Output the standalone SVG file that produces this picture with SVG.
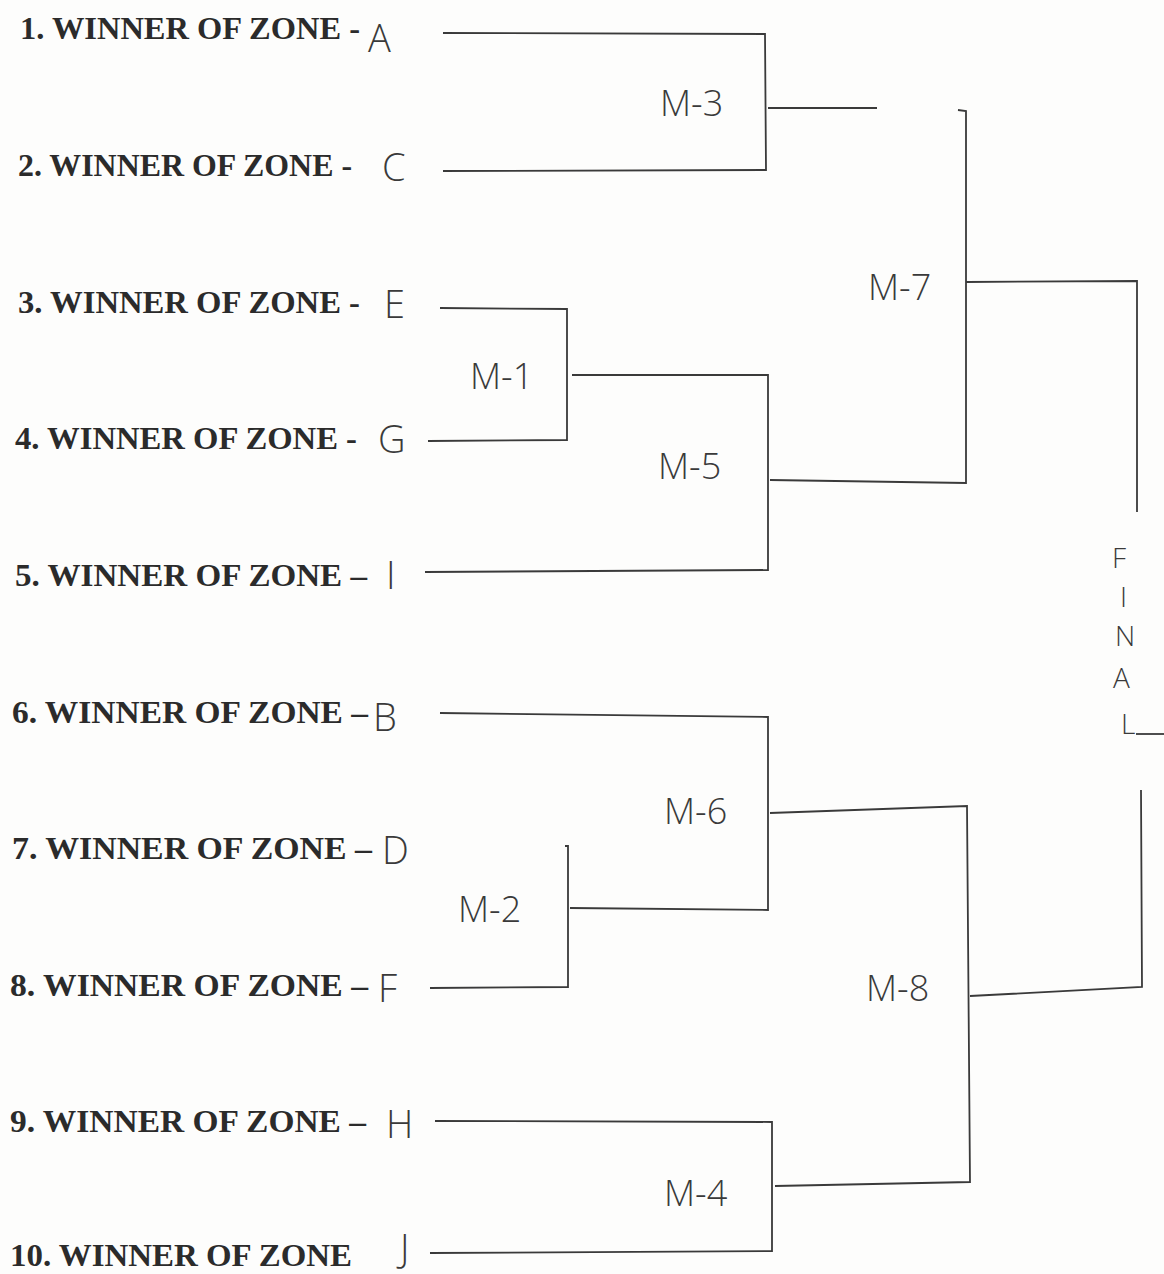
<svg xmlns="http://www.w3.org/2000/svg" width="1164" height="1274" viewBox="0 0 1164 1274">
<style>
.bg{fill:#fdfdfc}
.lbl{font-family:"Liberation Serif","Times New Roman",serif;font-weight:bold;font-size:31px;fill:#2b2b2b}
.hw{font-family:"Open Sans","DejaVu Sans",sans-serif;font-weight:300;font-size:38px;fill:#3a3a3a}
.m{font-family:"Open Sans","DejaVu Sans",sans-serif;font-weight:300;font-size:36px;fill:#3a3a3a}
.fin{font-family:"Open Sans","DejaVu Sans",sans-serif;font-weight:300;font-size:28px;fill:#3a3a3a}
.ln{fill:none;stroke:#3a3a3a;stroke-width:1.8;stroke-linejoin:miter}
</style>
<rect class="bg" x="0" y="0" width="1164" height="1274"/>

<g id="team1"><text class="lbl" x="20" y="39" textLength="340" lengthAdjust="spacingAndGlyphs">1. WINNER OF ZONE -</text><text class="hw" x="368" y="52">A</text></g>
<g id="team2"><text class="lbl" x="18" y="176" textLength="334" lengthAdjust="spacingAndGlyphs">2. WINNER OF ZONE -</text><text class="hw" x="382" y="181">C</text></g>
<g id="team3"><text class="lbl" x="18" y="313" textLength="342" lengthAdjust="spacingAndGlyphs">3. WINNER OF ZONE -</text><text class="hw" x="384" y="318">E</text></g>
<g id="team4"><text class="lbl" x="15" y="449" textLength="342" lengthAdjust="spacingAndGlyphs">4. WINNER OF ZONE -</text><text class="hw" x="378" y="453">G</text></g>
<g id="team5"><text class="lbl" x="15" y="586" textLength="352" lengthAdjust="spacingAndGlyphs">5. WINNER OF ZONE –</text><text class="hw" x="386" y="589">I</text></g>
<g id="team6"><text class="lbl" x="12" y="723" textLength="356" lengthAdjust="spacingAndGlyphs">6. WINNER OF ZONE –</text><text class="hw" x="373" y="731">B</text></g>
<g id="team7"><text class="lbl" x="12" y="859" textLength="360" lengthAdjust="spacingAndGlyphs">7. WINNER OF ZONE –</text><text class="hw" x="382" y="864">D</text></g>
<g id="team8"><text class="lbl" x="10" y="996" textLength="358" lengthAdjust="spacingAndGlyphs">8. WINNER OF ZONE –</text><text class="hw" x="378" y="1002">F</text></g>
<g id="team9"><text class="lbl" x="10" y="1132" textLength="356" lengthAdjust="spacingAndGlyphs">9. WINNER OF ZONE –</text><text class="hw" x="386" y="1138">H</text></g>
<g id="team10"><text class="lbl" x="10" y="1266" textLength="342" lengthAdjust="spacingAndGlyphs">10. WINNER OF ZONE</text><text class="hw" x="400" y="1262">J</text></g>

<g id="match-labels">
<text id="m3" class="m" x="660" y="116">M-3</text>
<text id="m7" class="m" x="868" y="300">M-7</text>
<text id="m1" class="m" x="470" y="389">M-1</text>
<text id="m5" class="m" x="658" y="479">M-5</text>
<text id="m6" class="m" x="664" y="824">M-6</text>
<text id="m2" class="m" x="458" y="922">M-2</text>
<text id="m8" class="m" x="866" y="1001">M-8</text>
<text id="m4" class="m" x="664" y="1206">M-4</text>
</g>

<g id="final">
<text class="fin"><tspan x="1112" y="568">F</tspan><tspan x="1120" y="607">I</tspan><tspan x="1115" y="646">N</tspan><tspan x="1113" y="688">A</tspan><tspan x="1121" y="734">L</tspan></text>
<path class="ln" d="M1136,734 L1164,734"/>
</g>

<g id="connectors">
<path class="ln" d="M443,33 L765,34 L766,170 L443,171"/>
<path class="ln" d="M768,108 L877,108"/>
<path class="ln" d="M440,308 L567,309 L567,440 L428,441"/>
<path class="ln" d="M572,375 L768,375 L768,570 L425,572"/>
<path class="ln" d="M958,110 L966,111 L966,483 L770,480"/>
<path class="ln" d="M966,282 L1137,281 L1137,512"/>
<path class="ln" d="M440,713 L768,717 L768,910 L570,908"/>
<path class="ln" d="M565,846 L568,846 L568,987 L430,988"/>
<path class="ln" d="M770,813 L967,806 L970,1182 L775,1186"/>
<path class="ln" d="M435,1121 L772,1122 L772,1251 L430,1253"/>
<path class="ln" d="M970,996 L1142,987 L1141,790"/>
</g>
</svg>
